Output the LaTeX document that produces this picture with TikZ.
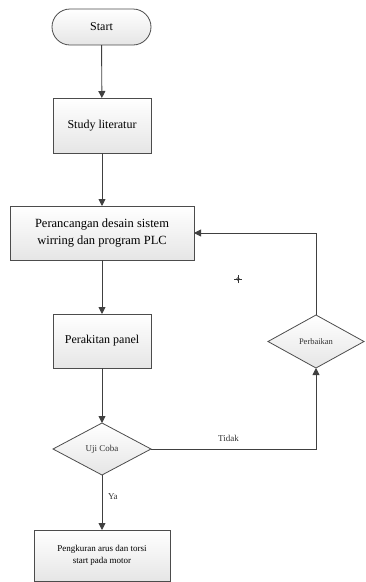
\documentclass[tikz,border=0pt]{standalone}
\usepackage{fontspec}
\setmainfont{Liberation Serif}
\usetikzlibrary{shapes.geometric,shapes.misc,arrows.meta}
\begin{document}
\begin{tikzpicture}[x=1pt,y=-1pt,
  every node/.style={inner sep=0pt,outer sep=0pt},
  boxfill/.style={draw=black!70,line width=0.8pt,top color=white,bottom color=black!10},
  procbox/.style={boxfill,rectangle,align=center},
  termbox/.style={boxfill,rounded rectangle,minimum width=99pt,minimum height=36pt},
  decbox/.style={boxfill,diamond,aspect=1.85},
  conn/.style={draw=black!75,line width=0.9pt,-{Triangle[length=7pt,width=7pt]}},
  lbl/.style={font=\fontsize{9}{10}\selectfont,text=black!80}
]
\useasboundingbox (0,0) rectangle (365,582);
\node[termbox,font=\fontsize{12}{14}\selectfont] (start) at (101.5,27) {Start};
\node[procbox,minimum width=98pt,minimum height=55pt,font=\fontsize{12}{14}\selectfont] (study) at (102,125.5) {Study literatur};
\node[procbox,minimum width=184pt,minimum height=54pt,font=\fontsize{12.5}{17}\selectfont] (design) at (102,233) {Perancangan desain sistem\\wirring dan program PLC};
\node[procbox,minimum width=98pt,minimum height=54pt,font=\fontsize{12}{14}\selectfont] (panel) at (102,341) {Perakitan panel};
\node[decbox,minimum width=98pt,minimum height=52pt,font=\fontsize{9}{10}\selectfont] (uji) at (102,449) {};
\node[lbl] (ujit) at (102,449) {Uji Coba};
\node[decbox,minimum width=96pt,minimum height=53pt] (fix) at (316,341.5) {};
\node[font=\fontsize{8.5}{10}\selectfont,text=black!80] (fixt) at (316,341.5) {Perbaikan};
\node[procbox,minimum width=136pt,minimum height=51pt,font=\fontsize{9}{12}\selectfont] (ukur) at (102,555.5) {Pengkuran arus dan torsi\\start pada motor};
\draw[conn] (start) -- (study);
\draw[conn] (study) -- (design);
\draw[conn] (design) -- (panel);
\draw[conn] (panel) -- (uji.north);
\draw[conn] (uji.south) -- node[lbl,right=6pt,pos=0.4] (ya) {Ya} (ukur);
\coordinate (corner) at (316,449);
\draw[conn] (uji.east) -- node[lbl,above=7pt,pos=0.47] (tidak) {Tidak} (corner) -- (fix.south);
\coordinate (top) at (316,233);
\draw[conn] (fix.north) -- (top) -- (design.east);
\coordinate (cur) at (238,279);
\draw[black!80,line width=0.6pt] ([xshift=-4pt]cur) -- ([xshift=4pt]cur) ([yshift=-4pt]cur) -- ([yshift=4pt]cur);
\draw[black!80,line width=0.4pt] (cur) circle (1.5pt);
\end{tikzpicture}
\end{document}
